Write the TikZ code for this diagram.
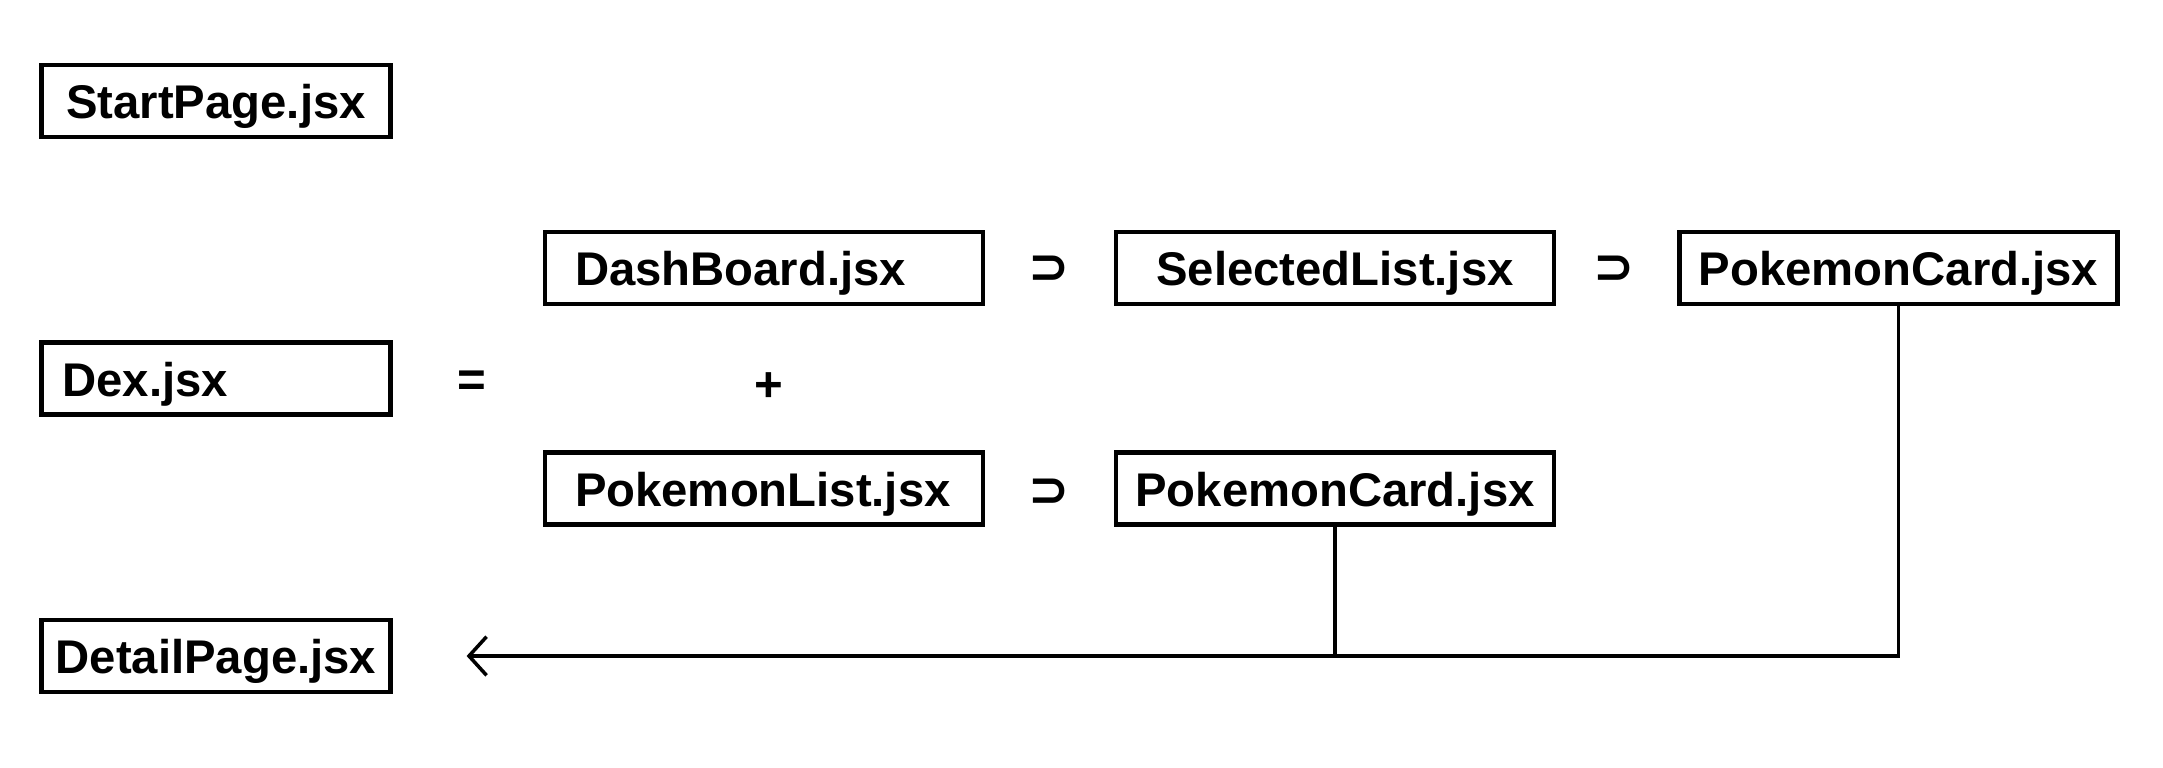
\documentclass[tikz,border=0pt]{standalone}
\usepackage{fontspec}
\setmainfont{Liberation Sans}
\newfontfamily\symfont{DejaVu Sans}
\usetikzlibrary{arrows.meta}

\begin{document}
\begin{tikzpicture}[>={Straight Barb[length=5pt,width=11pt]},node distance=2.775cm,
        file/.style={draw,line width=1.2pt,minimum height=0.72cm,minimum width=3.49cm,inner sep=0pt,
          text height=0.5cm,text depth=0.15cm,font=\fontsize{13.45}{16}\selectfont\bfseries},
        wide file/.style={file,minimum width=4.38cm},
        link/.style={line width=1pt},
        sign/.style={font=\fontsize{14}{16}\selectfont\bfseries}]

      \useasboundingbox (0,0) rectangle (21.63,7.67);

      \node[file] (start) at (2.16,6.66) {StartPage.jsx};
      \node[file,align=left,text width=3.07cm,inner xsep=0.21cm] (dex) [below of=start] {Dex.jsx};
      \node[file] (detail) [below of=dex] {DetailPage.jsx};

      \node[wide file,align=left,text width=3.78cm,inner xsep=0.3cm] (dash) at (7.64,4.99) {DashBoard.jsx};
      \node[wide file] (selected) [right of=dash,node distance=5.71cm] {SelectedList.jsx};
      \node[wide file] (cardtop) [right of=selected,node distance=5.635cm] {PokemonCard.jsx};
      \node[wide file,align=left,text width=3.78cm,inner xsep=0.3cm] (plist) [below of=dash,node distance=2.205cm] {PokemonList.jsx};
      \node[wide file] (cardbot) [right of=plist,node distance=5.71cm] {PokemonCard.jsx};

      \node[sign] (eq) at (4.72,3.83) {=};
      \node[sign] (plus) at (7.69,3.80) {+};
      \node[sign,font=\fontsize{14}{16}\symfont\bfseries] (sup1) at (10.49,4.97) {⊃};
      \node[sign,font=\fontsize{14}{16}\symfont\bfseries] (sup2) at (16.14,4.97) {⊃};
      \node[sign,font=\fontsize{14}{16}\symfont\bfseries] (sup3) at (10.49,2.74) {⊃};

      \draw[link,->,shorten >=0.74cm] (cardtop) |- (detail);
      \draw[link] (cardbot) -- (cardbot |- detail);
\end{tikzpicture}
\end{document}
